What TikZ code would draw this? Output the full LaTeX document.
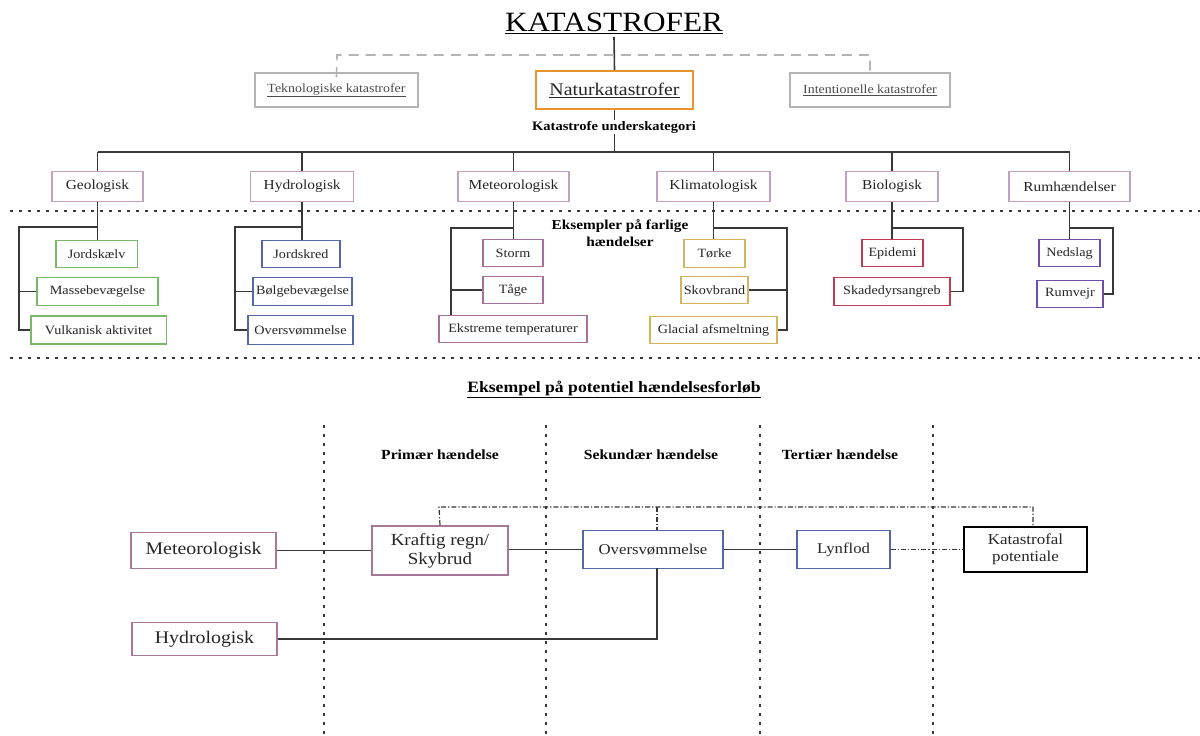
\documentclass[tikz,border=0pt]{standalone}
\usepackage{fontspec}
\setmainfont[FakeStretch=1.12]{Liberation Serif}
\definecolor{catpink}{HTML}{C4A0BC}
\definecolor{metpink}{HTML}{A8709C}
\definecolor{botpink}{HTML}{A87898}
\definecolor{geogreen}{HTML}{78B868}
\definecolor{hydblue}{HTML}{5468A8}
\definecolor{klimgold}{HTML}{D4B45C}
\definecolor{biored}{HTML}{C23A55}
\definecolor{rumpurple}{HTML}{6E4EA8}
\definecolor{natorange}{HTML}{E8952E}
\definecolor{boxgrey}{HTML}{B4B4B4}
\definecolor{linegrey}{HTML}{383838}
\begin{document}
\begin{tikzpicture}[x=1bp,y=-1bp,
  box/.style={draw,rectangle,inner sep=0pt,line width=1.5bp,align=center,text=black!85},
  cat/.style={box,draw=catpink,minimum height=30bp,font=\fontsize{13.8}{16}\selectfont},
  sub/.style={box,font=\fontsize{12.7}{14}\selectfont},
  conn/.style={draw=linegrey,line width=1.6bp},
  dotline/.style={draw=linegrey,line width=1.3bp,dash pattern=on 3bp off 6bp},
  vdot/.style={draw=linegrey,line width=1.3bp,dash pattern=on 3bp off 6bp},
  dashdot/.style={draw=linegrey,line width=1.2bp,dash pattern=on 5bp off 2bp on 1.2bp off 2bp},
  lbl/.style={font=\bfseries\fontsize{14}{16}\selectfont,align=center}
]
\useasboundingbox (0,0) rectangle (1200,736);
\fill[white] (0,0) rectangle (1200,736);

% ---------- top ----------
\node (title) at (614,23) {\fontsize{28}{30}\selectfont\underline{KATASTROFER}};
\node[box,draw=boxgrey,minimum width=163bp,minimum height=34bp,font=\fontsize{12.5}{14}\selectfont,text=black!70] (tek) at (336.5,90) {\underline{Teknologiske katastrofer}};
\node[box,draw=natorange,line width=2.2bp,minimum width=157bp,minimum height=38bp,font=\fontsize{17.8}{19}\selectfont] (natur) at (614.5,90) {\underline{Naturkatastrofer}};
\node[box,draw=boxgrey,minimum width=160bp,minimum height=34bp,font=\fontsize{12.5}{14}\selectfont,text=black!70] (intent) at (870,90) {\underline{Intentionelle katastrofer}};

\draw[conn] (title.south) -- (natur.north);
\coordinate (dl) at (337,55);
\coordinate (dr) at (870,55);
\draw[draw=boxgrey,line width=1.6bp,dash pattern=on 10bp off 7bp] ([yshift=-5bp]tek.north) -- (dl) -- (dr) -- ([yshift=-5bp]intent.north);

\coordinate (hl) at (97,152);
\coordinate (hr) at (1070,152);
\draw[conn] (natur.south) -- (natur.south |- hl);
\node[lbl,fill=white,inner sep=1bp,font=\bfseries\fontsize{13}{15}\selectfont] (undersk) at (614,127) {Katastrofe underskategori};

% ---------- categories ----------
\node[cat,minimum width=91bp] (geo) at (97.5,186.5) {Geologisk};
\node[cat,minimum width=103bp] (hydro) at (302.2,186.5) {Hydrologisk};
\node[cat,minimum width=111bp] (meteo) at (513.5,186.5) {Meteorologisk};
\node[cat,minimum width=113bp] (klima) at (713.5,186.5) {Klimatologisk};
\node[cat,minimum width=92bp] (bio) at (892,186.5) {Biologisk};
\node[cat,minimum width=121bp] (rum) at (1069.5,186.5) {Rumhændelser};

\draw[conn] (geo.north |- hl) -- (rum.north |- hr);
\foreach \n in {geo,hydro,meteo,klima,bio,rum}
  \draw[conn] (\n.north |- hl) -- (\n.north);

% dotted separators
\coordinate (s1l) at (10,211); \coordinate (s1r) at (1200,211);
\coordinate (s2l) at (10,358); \coordinate (s2r) at (1200,358);
\draw[dotline] (s1l) -- (s1r);
\draw[dotline] (s2l) -- (s2r);

\node[lbl,font=\bfseries\fontsize{13.7}{17}\selectfont] (eks) at (620,233) {Eksempler på farlige\\hændelser};

% ---------- sub items ----------
\node[sub,draw=geogreen,minimum width=81.4bp,minimum height=27bp] (jordskaelv) at (96.6,254) {Jordskælv};
\node[sub,draw=geogreen,minimum width=121bp,minimum height=28bp] (masse) at (97.5,291.5) {Massebevægelse};
\node[sub,draw=geogreen,minimum width=135.4bp,minimum height=28bp] (vulk) at (98.6,330) {Vulkanisk aktivitet};

\node[sub,draw=hydblue,minimum width=78bp,minimum height=27bp] (jordskred) at (301,254) {Jordskred};
\node[sub,draw=hydblue,minimum width=99bp,minimum height=28bp] (bolge) at (302.5,291.5) {Bølgebevægelse};
\node[sub,draw=hydblue,minimum width=105bp,minimum height=29bp] (overs1) at (300.5,330) {Oversvømmelse};

\node[sub,draw=metpink,minimum width=60bp,minimum height=27bp] (storm) at (513,253) {Storm};
\node[sub,draw=metpink,minimum width=60bp,minimum height=27bp] (tage) at (513,290) {Tåge};
\node[sub,draw=metpink,minimum width=148bp,minimum height=27bp] (ekstreme) at (513,329) {Ekstreme temperaturer};

\node[sub,draw=klimgold,minimum width=61bp,minimum height=28bp] (torke) at (714.5,253.5) {Tørke};
\node[sub,draw=klimgold,minimum width=67bp,minimum height=27bp] (skov) at (714.5,290) {Skovbrand};
\node[sub,draw=klimgold,minimum width=127bp,minimum height=27bp] (glacial) at (713.5,330) {Glacial afsmeltning};

\node[sub,draw=biored,minimum width=61bp,minimum height=27bp] (epidemi) at (892.5,253) {Epidemi};
\node[sub,draw=biored,minimum width=116bp,minimum height=28bp] (skade) at (892,291.5) {Skadedyrsangreb};

\node[sub,draw=rumpurple,minimum width=61bp,minimum height=27bp] (nedslag) at (1069.5,253) {Nedslag};
\node[sub,draw=rumpurple,minimum width=66bp,minimum height=27bp] (rumvejr) at (1070,294) {Rumvejr};

% geo tree
\coordinate (gk) at (19,227);
\draw[conn] (geo.south) -- (geo.south |- jordskaelv.north);
\draw[conn] (geo.south |- gk) -- (gk) |- (vulk.west);
\draw[conn] (gk |- masse.west) -- (masse.west);
% hydro tree
\coordinate (hk) at (235,227);
\draw[conn] (hydro.south) -- (hydro.south |- jordskred.north);
\draw[conn] (hydro.south |- hk) -- (hk) |- (overs1.west);
\draw[conn] (hk |- bolge.west) -- (bolge.west);
% meteo tree
\coordinate (mk) at (451,228);
\draw[conn] (meteo.south) -- (meteo.south |- storm.north);
\draw[conn] (meteo.south |- mk) -- (mk) -- (mk |- ekstreme.north);
\draw[conn] (mk |- tage.west) -- (tage.west);
% klima tree
\coordinate (kk) at (787,228);
\draw[conn] (klima.south) -- (klima.south |- torke.north);
\draw[conn] (klima.south |- kk) -- (kk) |- (glacial.east);
\draw[conn] (kk |- skov.east) -- (skov.east);
% bio tree
\coordinate (bk) at (963,228);
\draw[conn] (bio.south) -- (bio.south |- epidemi.north);
\draw[conn] (bio.south |- bk) -- (bk) |- (skade.east);
% rum tree
\coordinate (rk) at (1113,228);
\draw[conn] (rum.south) -- (rum.south |- nedslag.north);
\draw[conn] (rum.south |- rk) -- (rk) |- (rumvejr.east);

% ---------- bottom ----------
\node[lbl,font=\bfseries\fontsize{15.8}{18}\selectfont] (potentiel) at (614,389) {\underline{Eksempel på potentiel hændelsesforløb}};

\foreach \x/\n in {324/v1,546/v2,760/v3,933/v4}{
  \coordinate (\n t) at (\x,425);
  \coordinate (\n b) at (\x,736);
  \draw[vdot] (\n t) -- (\n b);
}

\node[lbl] (primaer) at (440,455) {Primær hændelse};
\node[lbl] (sekundaer) at (651,455) {Sekundær hændelse};
\node[lbl] (tertiaer) at (840,455) {Tertiær hændelse};

\node[box,draw=botpink,minimum width=145bp,minimum height=36bp,font=\fontsize{17.8}{19}\selectfont] (bmeteo) at (203.5,550.5) {Meteorologisk};
\node[box,draw=botpink,minimum width=145bp,minimum height=33bp,font=\fontsize{17.8}{19}\selectfont] (bhydro) at (204.5,639) {Hydrologisk};
\node[box,draw=botpink,minimum width=136bp,minimum height=49bp,font=\fontsize{17}{19}\selectfont] (kraftig) at (440,550.5) {Kraftig regn/\\Skybrud};
\node[box,draw=hydblue,minimum width=140bp,minimum height=38bp,font=\fontsize{15}{17}\selectfont] (overs2) at (653,549.5) {Oversvømmelse};
\node[box,draw=hydblue,minimum width=93bp,minimum height=38bp,font=\fontsize{15}{17}\selectfont] (lynflod) at (843.5,549.5) {Lynflod};
\node[box,draw=black,minimum width=123bp,minimum height=45bp,font=\fontsize{15.2}{17}\selectfont] (katastrofal) at (1025.5,549.5) {Katastrofal\\potentiale};

\draw[conn] (bmeteo.east) -- (kraftig.west |- bmeteo.east);
\draw[conn] (kraftig.east |- overs2.west) -- (overs2.west);
\draw[conn] (overs2.east) -- (lynflod.west);
\draw[dashdot] (lynflod.east) -- (katastrofal.west |- lynflod.east);
\coordinate (ov) at (657,568);
\draw[conn] (bhydro.east) -| (ov);

\coordinate (ddl) at (439,507);
\coordinate (ddr) at (1033,507);
\coordinate (ddm) at (657,507);
\draw[dashdot] (kraftig.north) -- (ddl) -- (ddr) -- (ddr |- katastrofal.north);
\draw[dashdot] (ddm) -- (ddm |- overs2.north);
\end{tikzpicture}
\end{document}
